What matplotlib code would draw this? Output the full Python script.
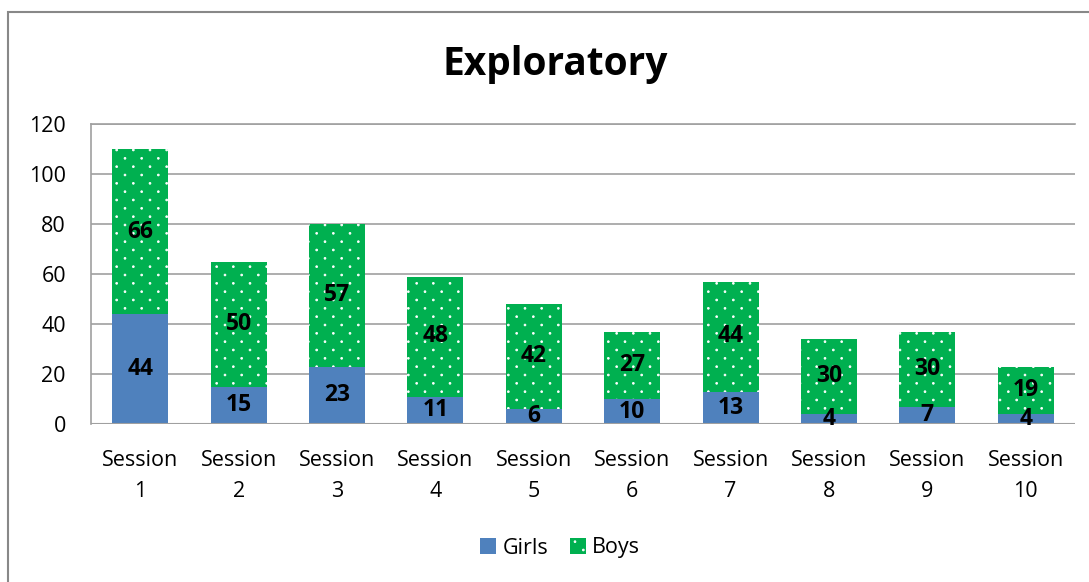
import matplotlib
matplotlib.use("Agg")
import numpy as np
import matplotlib.pyplot as plt
import matplotlib.hatch as mh
from matplotlib.path import Path
from matplotlib.patches import Rectangle

categories = ["Session\n1", "Session\n2", "Session\n3", "Session\n4", "Session\n5",
              "Session\n6", "Session\n7", "Session\n8", "Session\n9", "Session\n10"]
girls = [44, 15, 23, 11, 6, 10, 13, 4, 7, 4]
boys = [66, 50, 57, 48, 42, 27, 44, 30, 30, 19]
yticks = [0, 20, 40, 60, 80, 100, 120]


# Office-style "small dots" pattern: staggered lattice, wider horizontally
class StaggeredDots(mh.HatchPatternBase):
    def __init__(self, hatch, density):
        n = hatch.count('.')
        circ = Path.unit_circle()
        self.cv = circ.vertices
        self.cc = circ.codes
        self.centers = []
        if n:
            ncols, nrows = 6 * n, 12 * n
            for r in range(nrows + 1):
                y = r / nrows
                if r % 2 == 0:
                    xs = np.linspace(0, 1, ncols + 1)
                else:
                    xs = np.linspace(0.5 / ncols, 1 - 0.5 / ncols, ncols)
                for xx in xs:
                    self.centers.append((xx, y))
        self.num_vertices = len(self.centers) * len(self.cv)

    def set_vertices_and_codes(self, vertices, codes):
        k = len(self.cv)
        rad = 0.009
        for i, (cx, cy) in enumerate(self.centers):
            vertices[i * k:(i + 1) * k] = self.cv * rad + (cx, cy)
            codes[i * k:(i + 1) * k] = self.cc


mh._hatch_types[:] = [t for t in mh._hatch_types
                      if t.__name__ != 'SmallFilledCircles'] + [StaggeredDots]

plt.rcParams['font.family'] = ['Open Sans', 'DejaVu Sans']
plt.rcParams['hatch.color'] = 'white'
plt.rcParams['hatch.linewidth'] = 0.6

W, H = 1089, 582
fig = plt.figure(figsize=(W / 100, H / 100), dpi=100)
ax = fig.add_axes([91 / W, 1 - 424 / H, (1075 - 91) / W, 300 / H])

x = list(range(len(categories)))
bw = 0.57
ax.bar(x, girls, width=bw, color='#4f81bd', label='Girls', zorder=3)
ax.bar(x, boys, width=bw, bottom=girls, color='#00b050', hatch='.',
       edgecolor='white', linewidth=0, label='Boys', zorder=3)

for i in x:
    ax.text(i, girls[i] / 2, str(girls[i]), ha='center', va='center',
            fontsize=16.5, fontweight='bold', color='black', zorder=5)
    ax.text(i, girls[i] + boys[i] / 2, str(boys[i]), ha='center', va='center',
            fontsize=16.5, fontweight='bold', color='black', zorder=5)

ax.set_xlim(-0.5, len(categories) - 0.5)
ax.set_ylim(0, 120)
ax.set_yticks(yticks)
ax.set_xticks(x)
ax.set_xticklabels(categories, fontsize=15.5, linespacing=1.62)
ax.tick_params(axis='y', labelsize=15.5, length=0, pad=18)
ax.tick_params(axis='x', length=0, pad=19)
ax.grid(axis='y', color='#a0a0a0', linewidth=1.2, zorder=0)
for s in ['right', 'bottom']:
    ax.spines[s].set_visible(False)
for s in ['left', 'top']:
    ax.spines[s].set_color('#a0a0a0')
    ax.spines[s].set_linewidth(1.2)
ax.axhline(0, color='#a0a0a0', linewidth=1.5, zorder=4)

fig.text(555 / W, 1 - 64 / H, 'Exploratory', ha='center', va='center',
         fontsize=28, fontweight='bold')

leg = fig.legend(loc='center', bbox_to_anchor=(560 / W, 1 - 548 / H), ncol=2,
                 frameon=False, fontsize=15.5, handlelength=0.75, handleheight=0.75,
                 handletextpad=0.3, columnspacing=1.0)

fig.add_artist(Rectangle((8 / W, -0.1), 1.2, 1 - 12 / H + 0.1, transform=fig.transFigure,
                         fill=False, edgecolor='#888888', linewidth=1.5))

fig.savefig('out.png', dpi=100)
